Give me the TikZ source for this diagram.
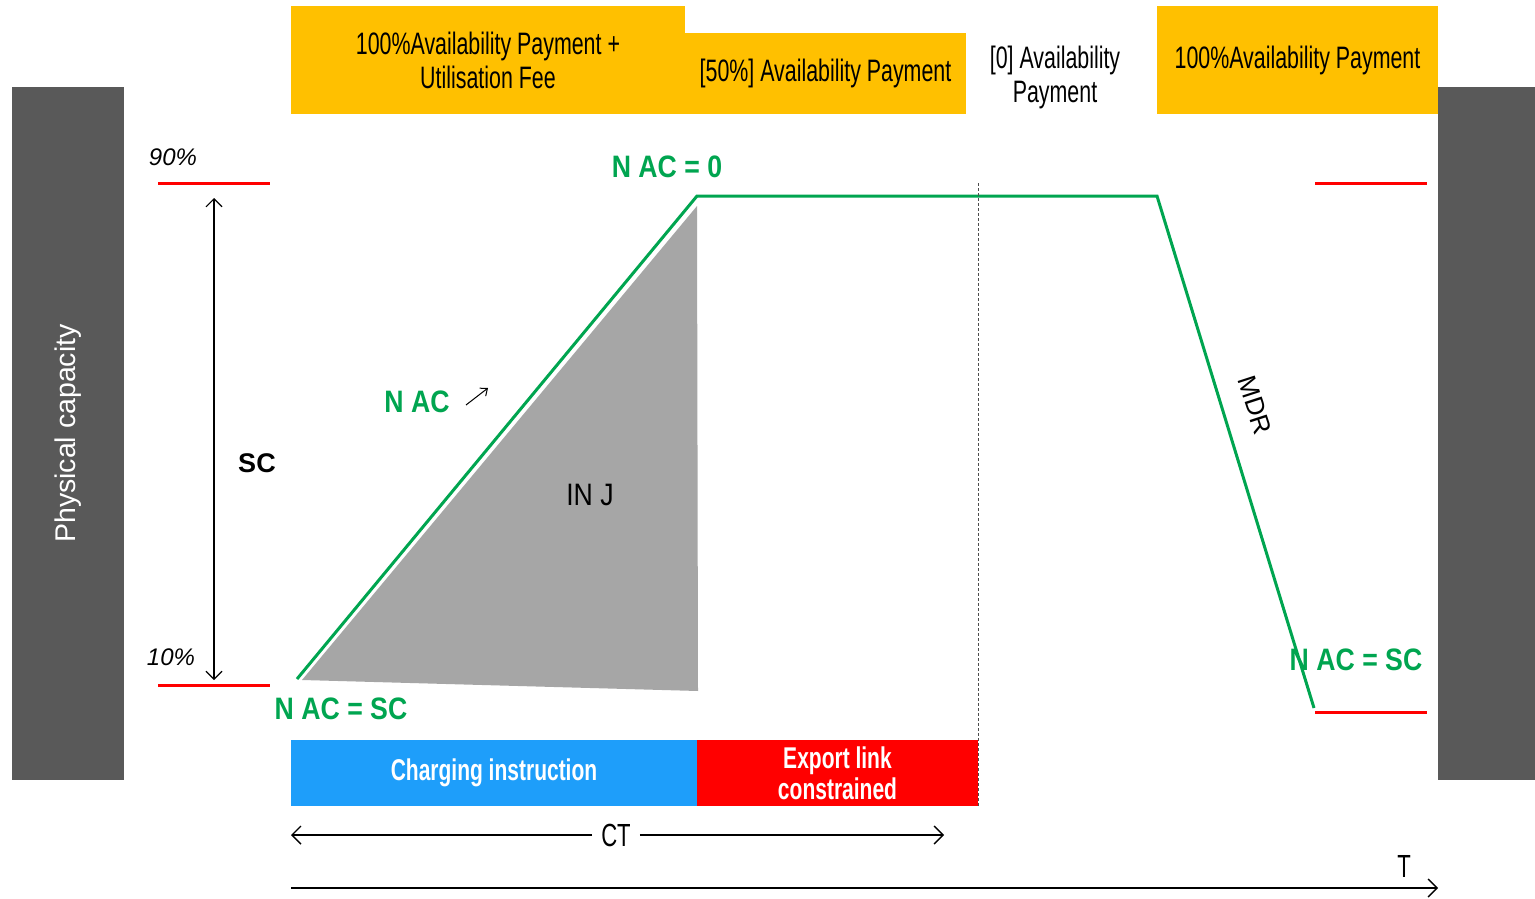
\documentclass[tikz,border=0pt]{standalone}
\usepackage{fontspec}
\setmainfont{Liberation Sans}
\newfontfamily\narrow[FakeStretch=0.69]{Liberation Sans}
\newfontfamily\narrowb[FakeStretch=0.86]{Liberation Sans}
\newfontfamily\narrowc[FakeStretch=0.70]{Liberation Sans}
\usetikzlibrary{arrows.meta}
\definecolor{payyellow}{HTML}{FFC000}
\definecolor{capgrey}{HTML}{595959}
\definecolor{injgrey}{HTML}{A6A6A6}
\definecolor{chblue}{HTML}{1E9EFA}
\definecolor{exred}{HTML}{FF0000}
\definecolor{nacgreen}{HTML}{00A550}
\tikzset{
  capbar/.style={fill=capgrey, draw=none, inner sep=0pt, outer sep=0pt},
  paybox/.style={fill=payyellow, draw=none, inner sep=0pt, outer sep=0pt, align=center,
     font=\narrow\fontsize{31}{34}\selectfont, text=black},
  paytext/.style={inner sep=0pt, align=center, font=\narrow\fontsize{31}{34}\selectfont, text=black},
  barbox/.style={draw=none, inner sep=0pt, outer sep=0pt, align=center,
     font=\narrowc\bfseries\fontsize{30}{31}\selectfont, text=white},
  limitline/.style={draw=exred, line width=3pt},
  nacline/.style={draw=nacgreen, line width=3pt, line join=miter},
  naclabel/.style={text=nacgreen, inner sep=0pt, font=\narrowb\bfseries\fontsize{31}{34}\selectfont},
  plainlabel/.style={text=black, inner sep=0pt, font=\narrow\fontsize{32}{34}\selectfont},
  pctlabel/.style={text=black, inner sep=0pt, font=\itshape\fontsize{24}{28}\selectfont},
  dimarrow/.style={draw=black, line width=1.1pt, arrows={Straight Barb[length=8pt,width=16pt]-Straight Barb[length=8pt,width=16pt]}},
  onearrow/.style={draw=black, line width=1.4pt, -{Straight Barb[length=9pt,width=18pt]}},
}
\begin{document}
\begin{tikzpicture}[x=1pt,y=-1pt]
\useasboundingbox (0,0) rectangle (1535,899);
\fill[white] (0,0) rectangle (1535,899);

% physical capacity bars
\node[capbar, minimum width=112pt, minimum height=693pt] (capL) at (68,433.5)
  {\rotatebox{90}{\color{white}\fontsize{28.5}{32}\selectfont Physical capacity}};
\node[capbar, minimum width=97pt, minimum height=693pt] (capR) at (1486.5,433.5) {};

% payment boxes
\node[paybox, minimum width=394pt, minimum height=108pt] (pay1) at (488,60)
  {100\%Availability Payment +\\Utilisation Fee};
\node[paybox, minimum width=281pt, minimum height=81pt] (pay2) at (825.5,73.5)
  {[50\%] Availability Payment};
\node[paytext] (pay3) at (1055,77) {[0] Availability\\Payment};
\node[paybox, minimum width=281pt, minimum height=108pt] (pay4) at (1297.5,60)
  {100\%Availability Payment};

% limit lines
\coordinate (l90a) at (158,183); \coordinate (l90b) at (270,183);
\coordinate (l10a) at (158,685); \coordinate (l10b) at (270,685);
\coordinate (r90a) at (1315,183); \coordinate (r90b) at (1427,183);
\coordinate (r10a) at (1315,712); \coordinate (r10b) at (1427,712);
\draw[limitline] (l90a) -- (l90b);
\draw[limitline] (l10a) -- (l10b);
\draw[limitline] (r90a) -- (r90b);
\draw[limitline] (r10a) -- (r10b);
\node[pctlabel] (p90) at (173,157) {90\%};
\node[pctlabel] (p10) at (171,657) {10\%};

% SC dimension
\coordinate (scTop) at (214,198);
\coordinate (scBot) at (214,680);
\draw[dimarrow] (scTop) -- (scBot);
\node[inner sep=0pt, font=\bfseries\fontsize{27}{30}\selectfont] (sc) at (257,463) {SC};

% injection triangle
\coordinate (t1) at (302,680);
\coordinate (t2) at (697,206);
\coordinate (t3) at (698,691);
\fill[injgrey] (t1) -- (t2) -- (t3) -- cycle;
\node[plainlabel, font=\narrowb\fontsize{31}{34}\selectfont] (inj) at (590,495) {IN J};

% NAC curve
\coordinate (n1) at (297,679);
\coordinate (n2) at (697,196);
\coordinate (n3) at (1157,196);
\coordinate (n4) at (1314,708);
\draw[nacline] (n1) -- (n2) -- (n3) -- (n4);
\node[naclabel] (nac0) at (667,167) {N AC = 0};
\node[naclabel] (nacup) at (417,402) {N AC};
\coordinate (ua) at (466,405);
\coordinate (ub) at (488,388);
\draw[draw=black, line width=1pt, -{Straight Barb[length=6pt,width=10pt]}] (ua) -- (ub);
\node[naclabel] (nacsc) at (341,709) {N AC = SC};
\node[naclabel] (nacsc2) at (1356,660) {N AC = SC};
\node[inner sep=0pt, rotate=-72, font=\fontsize{26}{30}\selectfont] (mdr) at (1255,405) {MDR};

% end of export-link window
\coordinate (dTop) at (978,183);
\coordinate (dBot) at (978,806);
\draw[draw=black!70, line width=0.8pt, dash pattern=on 3pt off 2pt] (dTop) -- (dBot);

% instruction bars
\node[barbox, fill=chblue, minimum width=406pt, minimum height=66pt] (charge) at (494,773)
  {Charging instruction};
\node[barbox, fill=exred, minimum width=281pt, minimum height=66pt] (export) at (837.5,773)
  {Export link\\constrained};

% CT
\node[plainlabel, inner xsep=9pt] (ct) at (616,835) {CT};
\coordinate (ctL) at (291,835);
\coordinate (ctR) at (944,835);
\draw[onearrow] (ct.west) -- (ctL);
\draw[onearrow] (ct.east) -- (ctR);

% time axis
\coordinate (tA) at (291,888);
\coordinate (tB) at (1438,888);
\draw[onearrow] (tA) -- (tB);
\node[plainlabel] (tlab) at (1404,866) {T};
\end{tikzpicture}
\end{document}
